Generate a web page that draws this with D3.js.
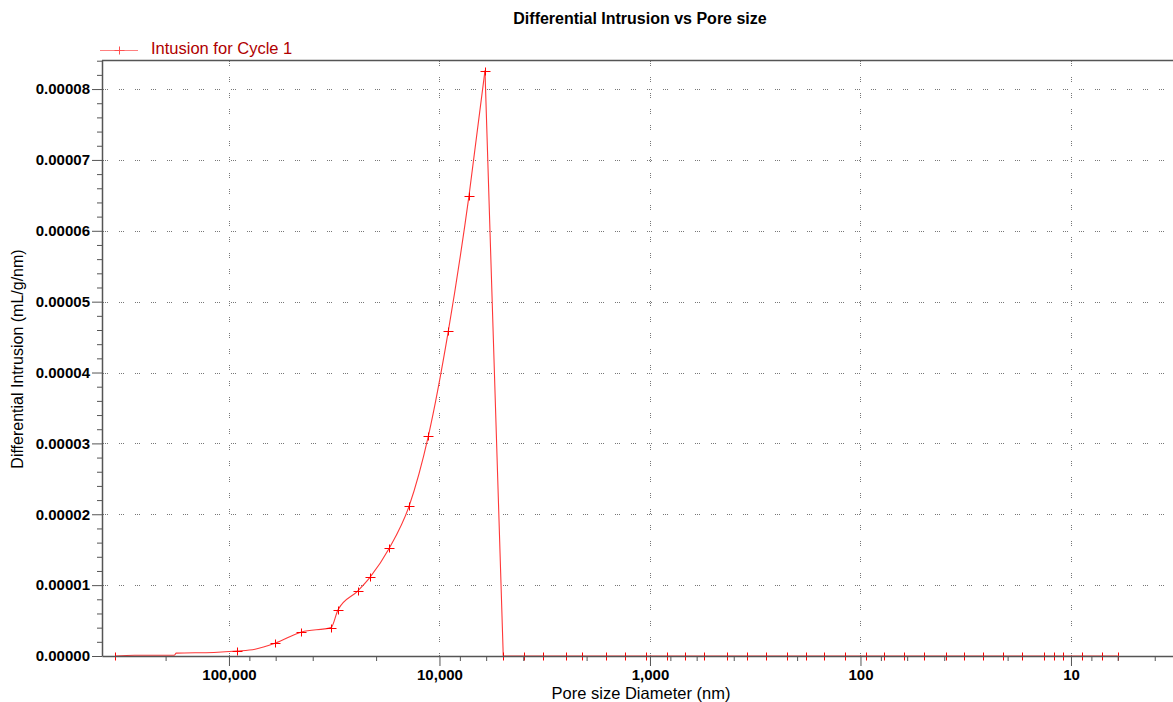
<!DOCTYPE html>
<html>
<head>
<meta charset="utf-8">
<script src="https://cdn.jsdelivr.net/npm/d3@7"></script>
<style>
  body { margin: 0; background: #fff; }
  text { font-family: Arial, "Liberation Sans", sans-serif; }
</style>
</head>
<body>
<div id="chart"></div>
<script>
// values
const poreSize = [348000, 280000, 182000, 178000, 118000, 91600, 75200, 60450, 45240, 32760, 30360,
    24390, 21390, 17320, 13960, 11300, 9082, 7243, 6078, 4977,
    3968, 3213, 2515, 2097, 1624, 1315, 1048, 833, 680, 552, 432, 347, 281, 224, 182, 149, 119,
    94.5, 77.1, 61.9, 49.8, 39.4, 32.2, 26.1, 21.0, 17.0, 13.5, 12.0, 10.9, 8.9, 7.15, 6.0];
const diffIntrusion = [0, 0.0000001, 0.0000001, 0.0000004, 0.0000005, 0.0000007, 0.00000096, 0.0000018, 0.0000034, 0.0000040, 0.0000065,
    0.0000092, 0.0000111, 0.0000152, 0.0000211, 0.0000310, 0.0000458, 0.0000649, 0.0000826, 0,
    0, 0, 0, 0, 0, 0, 0, 0, 0, 0, 0, 0, 0, 0, 0, 0, 0,
    0, 0, 0, 0, 0, 0, 0, 0, 0, 0, 0, 0, 0, 0, 0];
// points that carry a "+" marker (the others are only bends in the curve)
const marked = [1, 0, 0, 0, 0, 1, 0, 1, 1, 1, 1,
    1, 1, 1, 1, 1, 1, 1, 1, 1,
    1, 1, 1, 1, 1, 1, 1, 1, 1, 1, 1, 1, 1, 1, 1, 1, 1,
    1, 1, 1, 1, 1, 1, 1, 1, 1, 1, 1, 1, 1, 1, 1];

const xMajorTicks = [100000, 10000, 1000, 100, 10];
const xTickLabels = ["100,000", "10,000", "1,000", "100", "10"];
const xMinorTicks = [200000, 80000, 60000, 40000, 20000, 8000, 6000, 4000, 2000,
    800, 600, 400, 200, 80, 60, 40, 20, 8, 6, 4];
const yMajorTicks = [0, 0.00001, 0.00002, 0.00003, 0.00004, 0.00005, 0.00006, 0.00007, 0.00008];
const yTickLabels = ["0.00000", "0.00001", "0.00002", "0.00003", "0.00004", "0.00005", "0.00006", "0.00007", "0.00008"];

const width = 1173, height = 702;
const plotLeft = 102, plotRight = 1173, plotTop = 60, plotBottom = 656;

const svg = d3.select("#chart").append("svg")
    .attr("width", width)
    .attr("height", height);

const x = d3.scaleLog().domain([401000, 3.276]).range([plotLeft, plotRight]);
const y = d3.scaleLinear().domain([0, 0.0000841]).range([plotBottom, plotTop]);

const yMinorTicks = d3.range(0, 0.0000841, 0.000002).filter(v => !yMajorTicks.some(m => Math.abs(m - v) < 1e-9));

// dotted grid
const grid = svg.append("g").attr("stroke", "#777").attr("stroke-dasharray", "1,1,1,1,1,11");
grid.selectAll(".hgrid").data(yMajorTicks.slice(1)).enter().append("line")
    .attr("x1", plotLeft + 1).attr("x2", plotRight)
    .attr("y1", d => Math.round(y(d)) + 0.5).attr("y2", d => Math.round(y(d)) + 0.5);
grid.selectAll(".vgrid").data(xMajorTicks).enter().append("line")
    .attr("x1", d => Math.round(x(d)) + 0.5).attr("x2", d => Math.round(x(d)) + 0.5)
    .attr("y1", plotTop + 1).attr("y2", plotBottom);

// series: smooth rise up to the peak, straight drop after it
const points = poreSize.map((d, i) => ({ d: d, v: diffIntrusion[i], m: marked[i] }));
const peakIdx = d3.maxIndex(diffIntrusion);

const smoothLine = d3.line().x(p => x(p.d)).y(p => y(p.v)).curve(d3.curveMonotoneX);
const straightLine = d3.line().x(p => x(p.d)).y(p => y(p.v));

svg.append("path")
    .datum(points.slice(0, peakIdx + 1))
    .attr("fill", "none")
    .attr("stroke", "#ff3838")
    .attr("stroke-width", 1.1)
    .attr("d", smoothLine);
svg.append("path")
    .datum(points.slice(peakIdx))
    .attr("fill", "none")
    .attr("stroke", "#ff3838")
    .attr("stroke-width", 1.1)
    .attr("d", straightLine);

const plus = svg.append("g").attr("stroke", "#ff0000").attr("stroke-width", 1);
plus.selectAll("path").data(points.filter(p => p.m)).enter().append("path")
    .attr("d", p => {
        const px = Math.round(x(p.d)) + 0.5, py = Math.round(y(p.v)) + 0.5;
        return `M${px - 5},${py}H${px + 5}M${px},${py - 4}V${py + 4}`;
    });

// axes
const axisColor = "#555";

const xAxis = svg.append("g").attr("transform", `translate(0,${plotBottom})`)
    .call(d3.axisBottom(x).tickValues(xMajorTicks).tickSize(10).tickSizeOuter(0)
        .tickFormat((d, i) => xTickLabels[i]));
svg.append("g").attr("transform", `translate(0,${plotBottom})`)
    .call(d3.axisBottom(x).tickValues(xMinorTicks).tickSize(5).tickSizeOuter(0).tickFormat(""))
    .select(".domain").remove();

const yAxis = svg.append("g").attr("transform", `translate(${plotLeft},0)`)
    .call(d3.axisLeft(y).tickValues(yMajorTicks).tickSize(10).tickSizeOuter(0)
        .tickFormat((d, i) => yTickLabels[i]));
svg.append("g").attr("transform", `translate(${plotLeft},0)`)
    .call(d3.axisLeft(y).tickValues(yMinorTicks).tickSize(5).tickSizeOuter(0).tickFormat(""))
    .select(".domain").remove();

svg.selectAll(".domain").attr("stroke", axisColor).attr("stroke-width", 1.5);
svg.selectAll(".tick line").attr("stroke", axisColor);
xAxis.selectAll(".tick text").attr("font-size", 15).attr("font-weight", "bold").attr("fill", "#000");
yAxis.selectAll(".tick text").attr("font-size", 15).attr("font-weight", "bold").attr("fill", "#000").attr("dx", "1px");

// top frame line
svg.append("line")
    .attr("x1", plotLeft).attr("x2", plotRight)
    .attr("y1", plotTop + 0.5).attr("y2", plotTop + 0.5)
    .attr("stroke", axisColor).attr("stroke-width", 1.5);

// titles
svg.append("text")
    .attr("x", 640).attr("y", 24)
    .attr("text-anchor", "middle")
    .attr("font-size", 16).attr("font-weight", "bold")
    .text("Differential Intrusion vs Pore size");

svg.append("text")
    .attr("x", 641).attr("y", 699)
    .attr("text-anchor", "middle")
    .attr("font-size", 16.5)
    .text("Pore size Diameter (nm)");

svg.append("text")
    .attr("transform", "translate(23,359) rotate(-90)")
    .attr("text-anchor", "middle")
    .attr("font-size", 16)
    .text("Differential Intrusion (mL/g/nm)");

// legend
const legend = svg.append("g");
legend.append("line")
    .attr("x1", 100).attr("x2", 138).attr("y1", 50.5).attr("y2", 50.5)
    .attr("stroke", "#ff8080").attr("stroke-width", 1.2);
legend.append("path")
    .attr("d", "M114.5,50.5H124.5M119.5,46.5V54.5")
    .attr("stroke", "#ff5050");
legend.append("text")
    .attr("x", 151).attr("y", 53.5)
    .attr("font-size", 16.5)
    .attr("fill", "#b00000")
    .text("Intusion for Cycle 1");
</script>
</body>
</html>
